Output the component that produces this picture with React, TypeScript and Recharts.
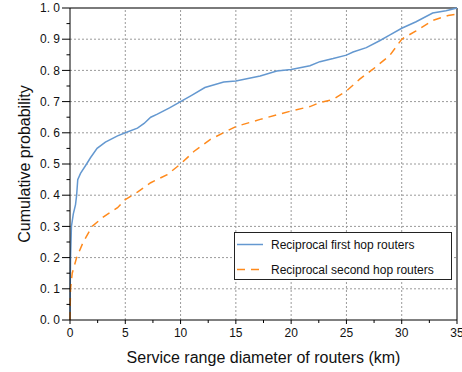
import React from 'react'
import { Line, LineChart, ReferenceLine, XAxis, YAxis } from 'recharts'

// first hop routers: diameter (km) vs cumulative probability
const firstHopKm = [0, 0.02, 0.05, 0.13, 0.3, 0.5, 0.6, 0.7, 0.95, 1.5, 1.85, 2.45, 3.2, 4.3, 5.0, 6.1, 6.7, 7.3, 7.9, 9.0, 10, 11, 12.2, 13.9, 15, 17.2, 18.7, 20, 21.7, 22.6, 23.8, 25, 25.6, 26.8, 28, 28.9, 30, 31.3, 32.8, 34, 35]
const firstHopCdf = [0, 0.1, 0.2, 0.3, 0.34, 0.37, 0.4, 0.45, 0.47, 0.5, 0.52, 0.55, 0.57, 0.59, 0.6, 0.615, 0.63, 0.65, 0.66, 0.68, 0.7, 0.72, 0.745, 0.763, 0.766, 0.782, 0.798, 0.803, 0.815, 0.828, 0.838, 0.849, 0.859, 0.873, 0.895, 0.913, 0.935, 0.956, 0.984, 0.991, 1.0]

// second hop routers
const secondHopKm = [0, 0.02, 0.05, 0.2, 0.6, 1.2, 2.0, 3.0, 4.3, 5.0, 6.1, 7.3, 8.8, 10, 11.2, 12.7, 15, 17.2, 20, 21.7, 22.6, 23.8, 25, 26.2, 27.4, 28.9, 30, 31.3, 32.8, 34.2, 35]
const secondHopCdf = [0, 0.05, 0.1, 0.15, 0.2, 0.25, 0.3, 0.33, 0.36, 0.386, 0.41, 0.44, 0.466, 0.5, 0.54, 0.579, 0.62, 0.643, 0.67, 0.684, 0.697, 0.707, 0.734, 0.772, 0.804, 0.847, 0.9, 0.927, 0.96, 0.976, 0.98]

const xTicks = [0, 2.5, 5, 7.5, 10, 12.5, 15, 17.5, 20, 22.5, 25, 27.5, 30, 32.5, 35]
const yTicks = [0, 0.05, 0.1, 0.15, 0.2, 0.25, 0.3, 0.35, 0.4, 0.45, 0.5, 0.55, 0.6, 0.65, 0.7, 0.75, 0.8, 0.85, 0.9, 0.95, 1.0]
const xGrid = [5, 10, 15, 20, 25, 30]
const yGrid = [0.1, 0.2, 0.3, 0.4, 0.5, 0.6, 0.7, 0.8, 0.9]

const seriesNames = ['Reciprocal first hop routers', 'Reciprocal second hop routers']

const FONT = '"Liberation Sans", Arial, sans-serif'
const BLUE = '#6498d0'
const ORANGE = '#ff8a1c'

const firstHop = firstHopKm.map((km, i) => ({ km, cdf: firstHopCdf[i] }))
const secondHop = secondHopKm.map((km, i) => ({ km, cdf: secondHopCdf[i] }))

const isMajor = (v: number, step: number) => Math.abs(v / step - Math.round(v / step)) < 1e-6

function XTick({ x, y, payload }: any) {
  const major = isMajor(payload.value, 5)
  return (
    <g>
      <line x1={x} x2={x} y1={y} y2={y + (major ? 4 : 3)} stroke="#000" />
      {major && (
        <text x={x} y={y + 17} textAnchor="middle" fontSize={12} fontFamily={FONT} fill="#111">
          {payload.value}
        </text>
      )}
    </g>
  )
}

function YTick({ x, y, payload }: any) {
  const major = isMajor(payload.value, 0.1)
  return (
    <g>
      <line x1={x - (major ? 8 : 3.5)} x2={x} y1={y} y2={y} stroke="#000" />
      {major && (
        <text x={x - 10} y={y} dy="0.35em" textAnchor="end" fontSize={12} fontFamily={FONT} fill="#111">
          {payload.value.toFixed(1).replace('.', '. ')}
        </text>
      )}
    </g>
  )
}

// legend sits over the lower right of the plot, so it is drawn outside the chart layout
function LegendBox() {
  return (
    <svg width={218} height={48} style={{ position: 'absolute', left: 234, top: 232, display: 'block' }}>
      <rect x={0.5} y={0.5} width={217} height={47} fill="#fff" stroke="#222" />
      <line x1={3} x2={29} y1={12.5} y2={12.5} stroke={BLUE} strokeWidth={1.5} />
      <text x={37} y={12.5} dy="0.35em" fontSize={12} fontFamily={FONT} fill="#111">{seriesNames[0]}</text>
      <line x1={3} x2={29} y1={37.5} y2={37.5} stroke={ORANGE} strokeWidth={1.5} strokeDasharray="8 6" />
      <text x={37} y={37.5} dy="0.35em" fontSize={12} fontFamily={FONT} fill="#111">{seriesNames[1]}</text>
    </svg>
  )
}

export default function App() {
  return (
    <div style={{ position: 'absolute', left: 0, top: 0, width: 462, height: 372, background: '#fff' }}>
      <LineChart width={462} height={372} margin={{ top: 8, right: 5, bottom: 0, left: 0 }}>
        <XAxis
          dataKey="km"
          type="number"
          domain={[0, 35]}
          ticks={xTicks}
          interval={0}
          height={52}
          tickSize={0}
          tickMargin={0}
          tickLine={false}
          tick={<XTick />}
          axisLine={{ stroke: '#000' }}
          allowDuplicatedCategory={false}
          label={({ viewBox }: any) => (
            <text
              x={viewBox.x + viewBox.width / 2}
              y={viewBox.y + 43}
              textAnchor="middle"
              fontSize={16}
              fontFamily={FONT}
              fill="#111"
            >
              Service range diameter of routers (km)
            </text>
          )}
        />
        <YAxis
          type="number"
          domain={[0, 1]}
          ticks={yTicks}
          interval={0}
          width={70}
          tickSize={0}
          tickMargin={0}
          tickLine={false}
          tick={<YTick />}
          axisLine={{ stroke: '#000' }}
          label={({ viewBox }: any) => {
            const cx = 24
            const cy = viewBox.y + viewBox.height / 2
            return (
              <text
                x={cx}
                y={cy}
                transform={`rotate(-90 ${cx} ${cy})`}
                textAnchor="middle"
                dominantBaseline="central"
                fontSize={16}
                fontFamily={FONT}
                fill="#111"
              >
                Cumulative probability
              </text>
            )
          }}
        />
        {xGrid.map((v) => (
          <ReferenceLine key={`gx${v}`} x={v} stroke="#9a9a9a" strokeDasharray="2 2" />
        ))}
        {yGrid.map((v) => (
          <ReferenceLine key={`gy${v}`} y={v} stroke="#9a9a9a" strokeDasharray="2 2" />
        ))}
        <ReferenceLine y={1} stroke="#7a7a7a" strokeWidth={2} />
        <ReferenceLine x={35} stroke="#7a7a7a" strokeWidth={2} />
        <Line
          data={firstHop}
          dataKey="cdf"
          name={seriesNames[0]}
          stroke={BLUE}
          strokeWidth={1.5}
          dot={false}
          type="linear"
          isAnimationActive={false}
        />
        <Line
          data={secondHop}
          dataKey="cdf"
          name={seriesNames[1]}
          stroke={ORANGE}
          strokeWidth={1.5}
          strokeDasharray="8 6"
          dot={false}
          type="linear"
          isAnimationActive={false}
        />
      </LineChart>
      <LegendBox />
    </div>
  )
}
